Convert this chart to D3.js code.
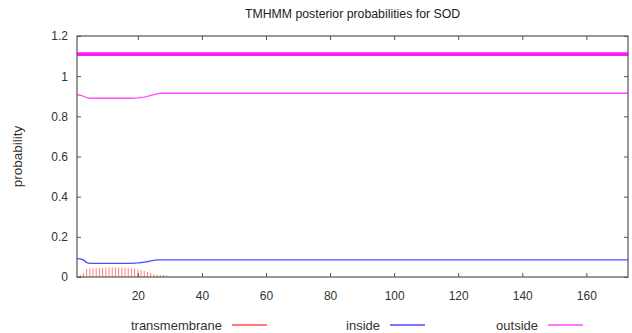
<!DOCTYPE html>
<html>
<head>
<meta charset="utf-8">
<script src="https://cdn.jsdelivr.net/npm/d3@7"></script>
<style>
  body{margin:0;background:#fff;}
  svg{display:block;font-family:"Liberation Sans",Arial,sans-serif;}
</style>
</head>
<body>
<div id="chart"></div>
<script>
/* TMHMM posterior probabilities — line + impulse plot */

/* ---------- DATA ---------- */
const SEQ_LEN=173;
const TITLE="TMHMM posterior probabilities for SOD";
// residues 1..29; after that the curves stay flat
const TM_HEAD=[0.006,0.012,0.02,0.04,0.043,0.043,0.044,0.045,0.046,0.047,
               0.048,0.048,0.048,0.048,0.047,0.046,0.045,0.043,0.041,0.038,
               0.035,0.030,0.025,0.02,0.014,0.012,0.01,0.01,0.008];
const IN_HEAD=[0.092,0.09,0.085,0.072,0.068,0.068,0.068,0.068,0.068,0.068,
               0.068,0.068,0.068,0.068,0.068,0.068,0.068,0.068,0.069,0.07,
               0.072,0.074,0.076,0.08,0.083,0.085,0.085,0.085,0.085];
const OUT_HEAD=[0.908,0.905,0.90,0.893,0.89,0.89,0.89,0.89,0.89,0.89,
                0.89,0.89,0.89,0.89,0.89,0.89,0.89,0.89,0.891,0.892,
                0.894,0.896,0.899,0.904,0.908,0.912,0.915,0.915,0.915];
const IN_TAIL=0.085, OUT_TAIL=0.915, TM_TAIL=0;
const TOPO_Y=1.11;                         // predicted topology bar (all outside)
const X_TICKS=[20,40,60,80,100,120,140,160];
const Y_TICKS=[0,0.2,0.4,0.6,0.8,1,1.2];
const LEGEND=[{name:"transmembrane",col:"#ff0000"},
              {name:"inside",col:"#0000ff"},
              {name:"outside",col:"#ff00ff"}];

const residues=d3.range(1,SEQ_LEN+1);
const val=(head,tail)=>residues.map(i=>({pos:i,p:i<=head.length?head[i-1]:tail}));
const tm=val(TM_HEAD,TM_TAIL), inside=val(IN_HEAD,IN_TAIL), outside=val(OUT_HEAD,OUT_TAIL);

/* ---------- LAYOUT ---------- */
const W=632,H=333;
const M={top:36,right:4,bottom:56,left:77};
const iw=W-M.left-M.right, ih=H-M.top-M.bottom;

const svg=d3.select("#chart").append("svg").attr("width",W).attr("height",H);
const g=svg.append("g").attr("transform",`translate(${M.left},${M.top})`);

const x=d3.scaleLinear().domain([1,SEQ_LEN]).range([0,iw]);
const y=d3.scaleLinear().domain([0,1.2]).range([ih,0]);

/* title */
svg.append("text").attr("x",M.left+iw/2).attr("y",18)
   .attr("text-anchor","middle").style("font-size","12.3px").attr("fill","#222")
   .text(TITLE);

/* y label */
svg.append("text").attr("transform",`translate(22,${M.top+ih/2}) rotate(-90)`)
   .attr("text-anchor","middle").style("font-size","13.5px").attr("fill","#333")
   .text("probability");

/* axes: ticks inside the frame on all four sides */
const axCol="#555";
const styleAx=sel=>{
  sel.select(".domain").remove();
  sel.selectAll("line").attr("stroke",axCol);
  sel.selectAll("text").style("font-size","12px").attr("fill","#333");
};
g.append("g").attr("transform",`translate(0,${ih})`)
 .call(d3.axisBottom(x).tickValues(X_TICKS).tickSize(-4).tickPadding(14)).call(styleAx);
g.append("g").call(d3.axisTop(x).tickValues(X_TICKS).tickSize(-4).tickFormat("")).call(styleAx);
g.append("g")
 .call(d3.axisLeft(y).tickValues(Y_TICKS).tickSize(-4).tickPadding(9).tickFormat(d3.format("~g")))
 .call(styleAx);
g.append("g").attr("transform",`translate(${iw},0)`)
 .call(d3.axisRight(y).tickValues(Y_TICKS).tickSize(-4).tickFormat("")).call(styleAx);

/* topology bar */
g.append("line").attr("x1",x(1)).attr("x2",x(SEQ_LEN))
 .attr("y1",y(TOPO_Y)).attr("y2",y(TOPO_Y))
 .attr("stroke","#ff00ff").attr("stroke-width",3.6).attr("stroke-opacity",0.9);

/* transmembrane impulses */
g.selectAll("line.tm").data(tm.filter(d=>d.p>0)).enter().append("line")
 .attr("class","tm")
 .attr("x1",d=>x(d.pos)).attr("x2",d=>x(d.pos))
 .attr("y1",y(0)).attr("y2",d=>y(d.p))
 .attr("stroke","#ff0000").attr("stroke-opacity",0.5).attr("stroke-width",1);

/* inside / outside curves */
const line=d3.line().x(d=>x(d.pos)).y(d=>y(d.p));
g.append("path").datum(inside).attr("d",line).attr("fill","none")
 .attr("stroke","#0000ff").attr("stroke-opacity",0.7).attr("stroke-width",1.3);
g.append("path").datum(outside).attr("d",line).attr("fill","none")
 .attr("stroke","#ff00ff").attr("stroke-opacity",0.7).attr("stroke-width",1.3);

/* frame */
g.append("rect").attr("width",iw).attr("height",ih)
 .attr("fill","none").attr("stroke",axCol).attr("stroke-width",1.2);

/* legend */
const LEG_X=[222,380,538];
const lg=svg.append("g").attr("transform",`translate(0,325)`);
LEGEND.forEach((d,i)=>{
  lg.append("text").attr("x",LEG_X[i]).attr("y",4.5).attr("text-anchor","end")
    .style("font-size","13px").attr("fill","#333").text(d.name);
  lg.append("line").attr("x1",LEG_X[i]+10).attr("x2",LEG_X[i]+45)
    .attr("y1",0).attr("y2",0).attr("stroke",d.col).attr("stroke-opacity",0.7)
    .attr("stroke-width",1.3);
});
</script>
</body>
</html>
